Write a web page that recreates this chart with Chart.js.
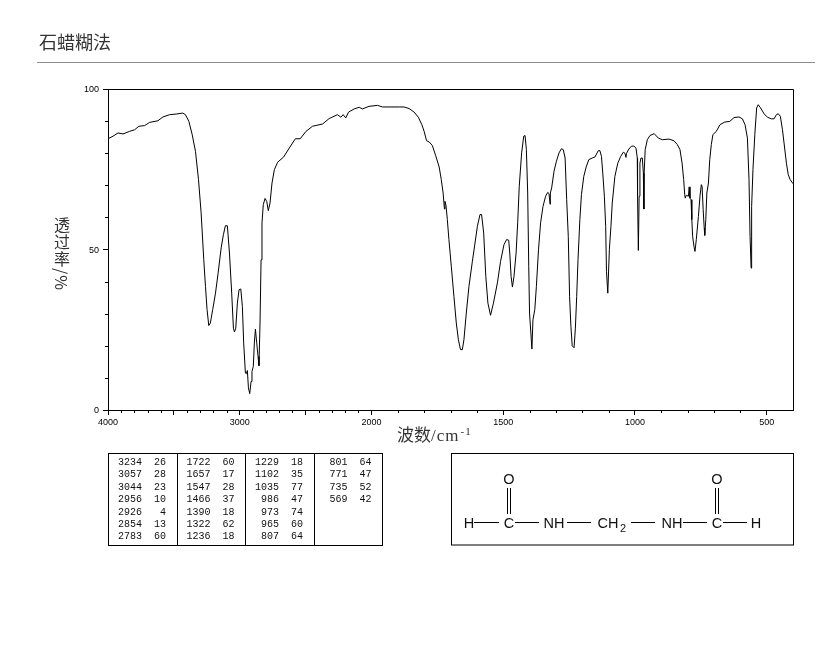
<!DOCTYPE html>
<html lang="zh">
<head>
<meta charset="utf-8">
<title>石蜡糊法</title>
<script src="https://cdn.jsdelivr.net/npm/chart.js@4"></script>
<style>
  html, body { margin: 0; padding: 0; background: #fff; }
  #page { position: relative; width: 822px; height: 652px; overflow: hidden; }
  #page > * { position: absolute; }
  #spectrum { left: 0; top: 0; }
  #title { left: 39px; top: 29px; font: 18px/24px "Noto Sans CJK SC", serif; color: #333; white-space: nowrap; }
  #rule { left: 37px; top: 62px; width: 778px; height: 1px; background: #8c8c8c; }
  #yTitle { left: 54px; top: 217px; writing-mode: vertical-rl; font: 16px/16px "Noto Sans CJK SC", serif; letter-spacing: 1px; color: #333; white-space: nowrap; }
  #xTitle { left: 397px; top: 424px; font: 17px/20px "Noto Sans CJK SC", serif; color: #333; white-space: nowrap; }
  #xTitle span { font-family: "Liberation Serif", serif; letter-spacing: 1px; }
  #xTitle sup { font: 11px/10px "Liberation Serif", serif; vertical-align: 6px; letter-spacing: 1px; margin-left: 1px; }
  #peaks { left: 108px; top: 453px; border-collapse: collapse; table-layout: fixed; width: 274px; border: 1px solid #000; font: 10px/12.4px "Liberation Mono", monospace; color: #111; }
  #peaks td { box-sizing: border-box; padding: 0; text-align: right; height: 12.4px; }
  #peaks tr:first-child td { padding-top: 3px; height: 15.4px; }
  #peaks tr:last-child td { padding-bottom: 1px; height: 13.4px; }
  #peaks td.w { width: 33.5px; }
  #peaks td.v { width: 35px; padding-right: 10.5px; border-right: 1px solid #000; }
  #peaks td.v:last-child { border-right: 0; }
  #formula { left: 451px; top: 453px; }
</style>
</head>
<body>
<div id="page">
  <canvas id="spectrum" width="822" height="652"></canvas>
  <div id="title">石蜡糊法</div>
  <div id="rule"></div>
  <div id="yTitle">透过率/%</div>
  <div id="xTitle">波数<span>/cm<sup>-1</sup></span></div>
  <table id="peaks"></table>
  <svg id="formula" width="343" height="93" xmlns="http://www.w3.org/2000/svg" font-family="Liberation Sans, sans-serif" font-size="14.5" fill="#111" text-anchor="middle">
    <rect x="0.5" y="0.5" width="342" height="91.5" fill="none" stroke="#000"/>
    <g stroke="#000" stroke-width="1">
      <path d="M23 69.5H48M64 69.5H88M116 69.5H140M180 69.5H204M232 69.5H256M272 69.5H296"/>
      <path d="M56.5 35V61M59.5 35V61M264.5 35V61M267.5 35V61"/>
    </g>
    <g stroke="none">
      <text x="18" y="74.500">H</text>
      <text x="58" y="74.500">C</text>
      <text x="58" y="31">O</text>
      <text x="103" y="74.500">NH</text>
      <text x="157" y="74.500">CH</text>
      <text x="172" y="79" font-size="11">2</text>
      <text x="221" y="74.500">NH</text>
      <text x="266" y="74.500">C</text>
      <text x="266" y="31">O</text>
      <text x="305" y="74.500">H</text>
    </g>
  </svg>
</div>
<script>
// Spectrum, high wavenumber to low
const wavenumbers = [
  4000, 3962, 3924, 3886, 3836, 3798, 3765, 3722, 3684, 3621, 3583, 3533, 3482, 3432, 3412, 3386,
  3361, 3336, 3313, 3293, 3273, 3260, 3248, 3235, 3223, 3205, 3184, 3164, 3141, 3124, 3109, 3094,
  3078, 3061, 3048, 3040, 3030, 3018, 3005, 2992, 2980, 2970, 2957, 2950, 2942, 2934, 2924, 2914,
  2907, 2897, 2889, 2881, 2871, 2861, 2854, 2846, 2838, 2831, 2821, 2808, 2795, 2783, 2770, 2755,
  2737, 2712, 2667, 2624, 2578, 2541, 2497, 2447, 2371, 2321, 2258, 2232, 2215, 2195, 2174, 2131,
  2093, 2068, 2018, 1977, 1958, 1895, 1876, 1857, 1838, 1822, 1809, 1800, 1791, 1781, 1769, 1756,
  1743, 1735, 1728, 1723, 1721, 1717, 1712, 1706, 1697, 1687, 1678, 1670, 1662, 1655, 1649, 1640,
  1630, 1617, 1607, 1598, 1588, 1582, 1574, 1566, 1558, 1548, 1537, 1522, 1510, 1497, 1487, 1479,
  1475, 1470, 1465, 1459, 1451, 1445, 1439, 1430, 1422, 1417, 1412, 1407, 1403, 1400, 1395, 1391,
  1387, 1380, 1374, 1366, 1358, 1349, 1339, 1331, 1326, 1322, 1321, 1316, 1307, 1298, 1288, 1279,
  1272, 1265, 1259, 1253, 1248, 1243, 1238, 1231, 1226, 1221, 1216, 1209, 1203, 1194, 1185, 1175,
  1162, 1152, 1139, 1133, 1127, 1122, 1116, 1111, 1108, 1103, 1097, 1091, 1086, 1076, 1065, 1054,
  1044, 1038, 1034, 1032, 1023, 1013, 1004, 996, 991, 990, 987, 984, 981, 977, 972, 968,
  966, 965, 961, 953, 943, 927, 911, 896, 871, 852, 839, 829, 821, 815, 811, 809,
  805, 797, 794, 791, 787, 784, 781, 776, 772, 767, 759, 753, 748, 745, 741, 737,
  735, 731, 727, 721, 716, 710, 704, 691, 677, 659, 640, 624, 605, 592, 582, 573,
  567, 563, 559, 557, 552, 545, 538, 532, 523, 510, 497, 482, 472, 463, 456, 448,
  440, 434, 425, 418, 411, 400
];
const transmittance = [
  84.5, 85.3, 86.3, 86, 86.8, 87.3, 88.4, 88.6, 89.6, 90.1, 91.3, 92, 92.2, 92.5, 92, 89.9,
  85.8, 80.6, 71.8, 61.4, 46.8, 38.5, 31.3, 26.3, 27.1, 31.3, 36.4, 42.7, 50.5, 54.6, 57.4, 57.4,
  48.9, 36.4, 25.5, 24.3, 25.5, 33.3, 37.5, 37.7, 32.3, 20.9, 11.5, 11.3, 12.3, 6.9, 5.1, 8.9,
  12, 13.6, 20.9, 25.2, 20.9, 16.7, 13.8, 27.1, 46.8, 58.3, 64, 65.9, 65, 62.1, 64.5, 70.7,
  74.9, 77.2, 78.8, 81.6, 84.5, 84.5, 86.8, 88.4, 89.1, 90.8, 92, 91.2, 92, 91, 92.8, 93.8,
  94.3, 93.8, 94.6, 94.9, 94.4, 94.4, 94.4, 93.9, 92.8, 91.2, 88.9, 86.8, 83.9, 83.5, 82.4, 79.2,
  75.7, 71.8, 67.6, 62.6, 65, 63.7, 59.3, 53.1, 44.8, 35.4, 27.1, 21.9, 18.8, 18.8, 21.9, 30.2,
  38.5, 46.3, 52, 57.2, 60.9, 60.9, 55.1, 41.6, 33.3, 29.5, 33.3, 39.6, 46.3, 51.5, 53.1, 52.9,
  48.9, 41.6, 38.3, 41.6, 48.9, 58.3, 69.7, 80.1, 85.3, 85.5, 81.1, 67.6, 44.8, 30.2, 24, 19,
  28.1, 31.3, 38.5, 49.9, 58.3, 63.4, 66.6, 67.8, 67.4, 64.1, 67.6, 69.2, 74.4, 77.5, 80.1, 81.4,
  81.1, 78.5, 65.5, 54.1, 35.4, 26.1, 20, 19.4, 25.5, 35.4, 46.8, 59.3, 67.1, 72.8, 75.7, 78,
  78.5, 78.8, 80.8, 80.8, 79, 73.8, 66.6, 57.2, 43.2, 36.4, 50, 57.2, 64.5, 72.8, 76.9, 79,
  80.3, 80, 78.7, 79.9, 81.3, 82.2, 82.2, 81.6, 78.5, 66.6, 49.7, 66.6, 76.9, 78.5, 78.5, 73.8,
  62.6, 73.8, 81.1, 84.2, 85.5, 86.1, 84.7, 84.2, 84.4, 83.9, 82.7, 81.1, 76.9, 71.8, 67.1, 66,
  66.9, 66.6, 69.5, 66, 65.5, 59.3, 54.1, 51, 49.4, 53.1, 60.3, 66.6, 70.2, 69.7, 62.4, 56.7,
  54.4, 59.3, 67.6, 70.7, 78, 82.7, 85.8, 86.8, 88.9, 89.7, 89.9, 91.1, 91.3, 90.7, 88.9, 84.7,
  71.8, 54.1, 44.2, 63.4, 74.9, 85.8, 94.1, 95.1, 94.1, 92.3, 91.2, 90.7, 90.7, 92, 92.3, 91.5,
  87.3, 83.2, 76.9, 73.3, 71.8, 70.5
];

const xTickLabels = [4000, 3000, 2000, 1500, 1000, 500];
const yTickLabels = [0, 50, 100];

// Peak table, one column of the list after another
const peakWavenumbers = [
  3234, 3057, 3044, 2956, 2926, 2854, 2783,
  1722, 1657, 1547, 1466, 1390, 1322, 1236,
  1229, 1102, 1035, 986, 973, 965, 807,
  801, 771, 735, 569
];
const peakValues = [
  26, 28, 23, 10, 4, 13, 60,
  60, 17, 28, 37, 18, 62, 18,
  18, 35, 77, 47, 74, 60, 64,
  64, 47, 52, 42
];

// The chart is printed with 4000-2000 at half the scale of 2000-400
function toAxis(w) {
  return w > 2000 ? (4000 - w) / 2 : 1000 + (2000 - w);
}
function fromAxis(v) {
  return v > 1000 ? 2000 - (v - 1000) : 4000 - v * 2;
}

const xTicks = [];
for (let w = 4000; w >= 500; w -= 100) xTicks.push(w);

function isMajorX(value) {
  return Math.round(fromAxis(value)) % 500 === 0;
}

// Frame round the plot and the short ticks the axes cannot draw themselves
const framePlugin = {
  id: 'frame',
  afterDraw(chart) {
    const { ctx, chartArea: a, scales } = chart;
    ctx.save();
    ctx.strokeStyle = '#000';
    ctx.lineWidth = 1;
    ctx.beginPath();
    ctx.moveTo(Math.round(a.left) + 0.5, Math.round(a.top) + 0.5);
    ctx.lineTo(Math.round(a.right) + 0.5, Math.round(a.top) + 0.5);
    ctx.lineTo(Math.round(a.right) + 0.5, Math.round(a.bottom) + 0.5);
    scales.x.ticks.forEach(t => {
      if (isMajorX(t.value)) return;
      const px = Math.round(scales.x.getPixelForValue(t.value)) + 0.5;
      ctx.moveTo(px, a.bottom);
      ctx.lineTo(px, a.bottom + 3);
    });
    scales.y.ticks.forEach(t => {
      if (t.value % 50 === 0) return;
      const py = Math.round(scales.y.getPixelForValue(t.value)) + 0.5;
      ctx.moveTo(a.left - 3, py);
      ctx.lineTo(a.left, py);
    });
    ctx.stroke();
    ctx.restore();
  }
};

new Chart(document.getElementById('spectrum').getContext('2d'), {
  type: 'line',
  data: {
    datasets: [{
      data: wavenumbers.map((w, i) => ({ x: toAxis(w), y: transmittance[i] })),
      borderColor: '#000',
      borderWidth: 1,
      pointRadius: 0,
      tension: 0
    }]
  },
  options: {
    responsive: false,
    animation: false,
    events: [],
    layout: { padding: { left: 0, top: 89, right: 29, bottom: 221 } },
    plugins: { legend: { display: false }, tooltip: { enabled: false } },
    scales: {
      x: {
        type: 'linear',
        min: 0,
        max: toAxis(400),
        afterBuildTicks: scale => { scale.ticks = xTicks.map(w => ({ value: toAxis(w) })); },
        afterFit: scale => { scale.height = 21; },
        border: { color: '#000', width: 1 },
        grid: {
          drawOnChartArea: false,
          tickLength: 5,
          tickColor: ctx => isMajorX(ctx.tick.value) ? '#000' : 'transparent'
        },
        ticks: {
          autoSkip: false,
          maxRotation: 0,
          padding: 2,
          color: '#000',
          font: { family: 'Liberation Sans', size: 9 },
          callback: value => {
            const w = Math.round(fromAxis(value));
            return xTickLabels.includes(w) ? String(w) : '';
          }
        }
      },
      y: {
        min: 0,
        max: 100,
        afterFit: scale => { scale.width = 108; },
        border: { color: '#000', width: 1 },
        grid: {
          drawOnChartArea: false,
          tickLength: 5,
          tickColor: ctx => ctx.tick.value % 50 === 0 ? '#000' : 'transparent'
        },
        ticks: {
          stepSize: 10,
          padding: 4,
          labelOffset: 1,
          color: '#000',
          font: { family: 'Liberation Sans', size: 9 },
          callback: value => yTickLabels.includes(value) ? String(value) : ''
        }
      }
    }
  },
  plugins: [framePlugin]
});

// Peak table
let rows = '';
for (let r = 0; r < 7; r++) {
  rows += '<tr>';
  for (let c = 0; c < 4; c++) {
    const i = c * 7 + r;
    const w = i < peakWavenumbers.length ? peakWavenumbers[i] : '';
    const v = i < peakValues.length ? peakValues[i] : '';
    rows += `<td class="w">${w}</td><td class="v">${v}</td>`;
  }
  rows += '</tr>';
}
document.getElementById('peaks').innerHTML = rows;
</script>
</body>
</html>
